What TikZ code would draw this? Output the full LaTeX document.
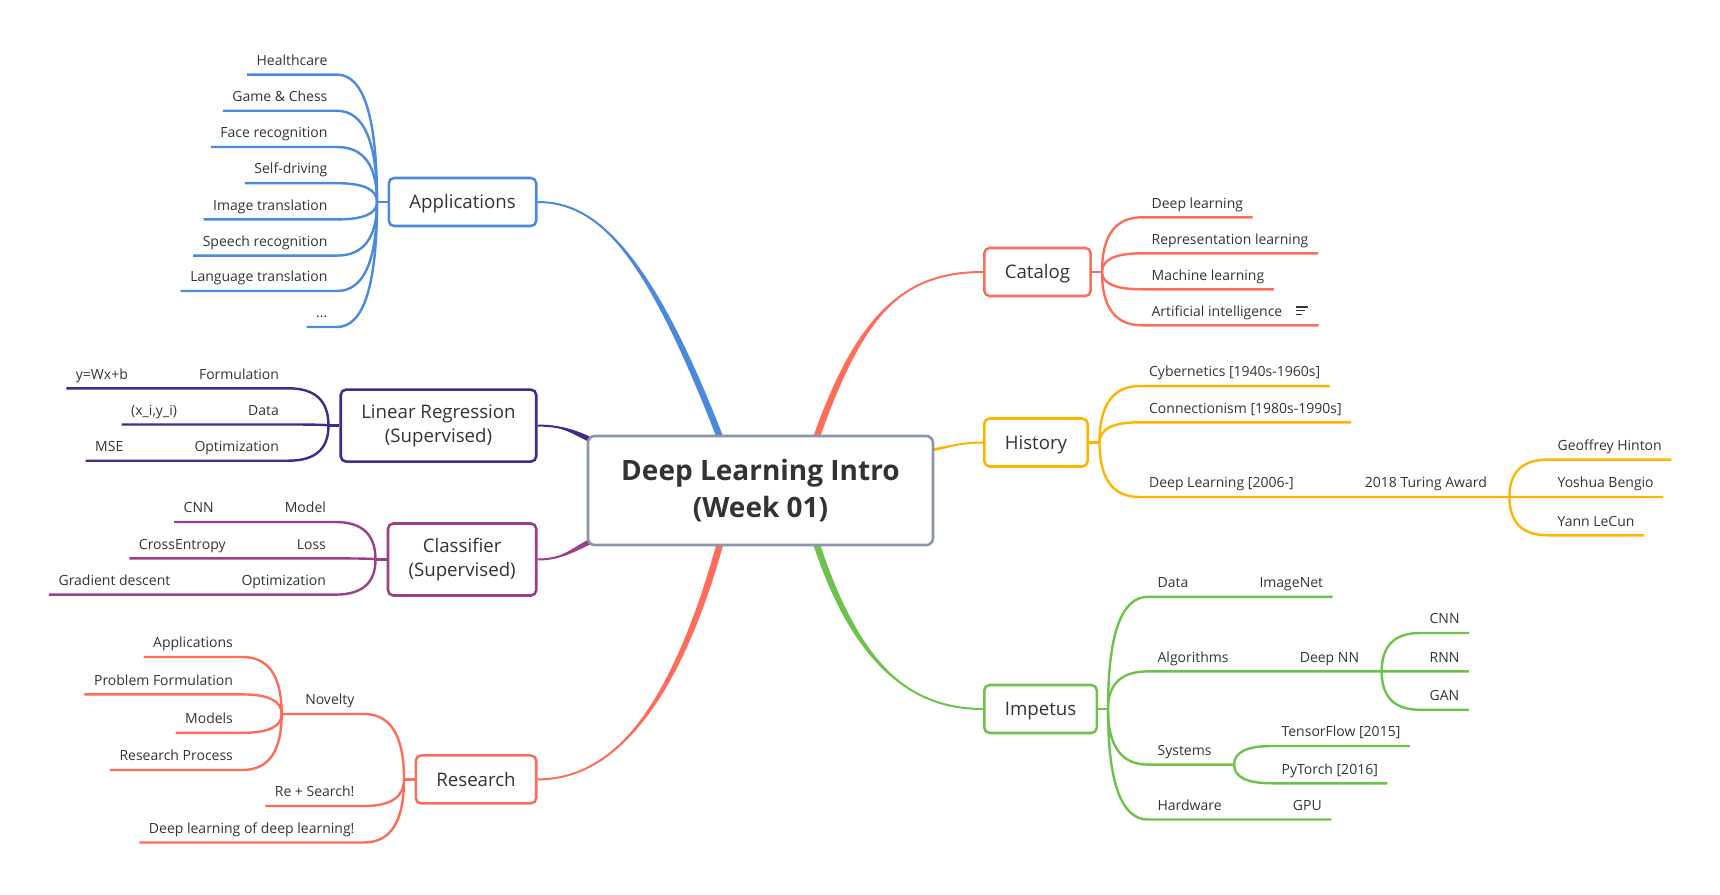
\documentclass[tikz,border=0pt]{standalone}
\usepackage{fontspec}
\setmainfont{Open Sans}
\usetikzlibrary{calc,positioning}
\definecolor{ink}{HTML}{333333}
\definecolor{rootline}{HTML}{8A95A9}
\definecolor{applications}{HTML}{4A89DC}
\definecolor{regression}{HTML}{3D2B8E}
\definecolor{classifier}{HTML}{9B3F88}
\definecolor{research}{HTML}{FF6C5A}
\definecolor{catalog}{HTML}{FF6C5A}
\definecolor{history}{HTML}{FFB400}
\definecolor{impetus}{HTML}{6CC24A}
\tikzstyle{core}=[draw=rootline, line width=1.9pt, rounded corners=5pt, fill=white, text=ink, align=center, inner sep=0pt, minimum width=258.75pt, minimum height=81.75pt, font=\bfseries\fontsize{21}{28}\selectfont]
\tikzstyle{hub}=[draw, line width=1.9pt, rounded corners=4pt, fill=white, text=ink, align=center, inner xsep=15.4pt, inner ysep=0pt, minimum height=36pt, font=\fontsize{14}{18}\selectfont]
\tikzset{lone/.style={text height=13.4pt, text depth=3.5pt}}
\tikzstyle{twig}=[text=ink, inner xsep=7pt, inner ysep=6.75pt, text height=8pt, text depth=0pt, font=\fontsize{10.5}{12}\selectfont]
\tikzset{rib/.style={line width=1.8pt}}
% bend from a fork into the underline of a topic
\tikzset{bough/.style={to path={.. controls ($(\tikztostart)!0.667!(\tikztostart |- \tikztotarget)$) and ($(\tikztotarget)!0.667!(\tikztostart |- \tikztotarget)$) .. (\tikztotarget)}}}
\pgfdeclarelayer{background}
\pgfsetlayers{background,main}
% tapered main branch: colour, start, out control, in control, end, half width
\newcommand\limb[6]{%
  \fill[#1] ($#2+#6$) .. controls +#3 and +#4 .. #5
    .. controls +#4 and +#3 .. ($#2-#6$) -- cycle;
  \draw[#1, line width=1.5pt] #2 .. controls +#3 and +#4 .. #5;}

\begin{document}
\begin{tikzpicture}[x=0.75pt,y=-0.75pt]
  \useasboundingbox (0,0) rectangle (1720,895);
  \draw (760.5,490.5) node[core] (root) {Deep Learning Intro\\(Week 01)};

  %% Main topics
  \draw (537.5,202) node[hub,lone,draw=applications,anchor=east] (app) {Applications};
  \draw (537.5,425.6) node[hub,draw=regression,anchor=east,minimum height=54pt] (lr) {Linear Regression\\(Supervised)};
  \draw (537.5,559.5) node[hub,draw=classifier,anchor=east,minimum height=54pt] (clf) {Classifier\\(Supervised)};
  \draw (537.5,779.4) node[hub,lone,draw=research,anchor=east] (res) {Research};
  \draw (983,272) node[hub,lone,draw=catalog,anchor=west] (cat) {Catalog};
  \draw (983,442.5) node[hub,lone,draw=history,anchor=west] (hist) {History};
  \draw (983,709) node[hub,lone,draw=impetus,anchor=west] (imp) {Impetus};

  \coordinate (sApp) at ($(root.north)+(-40,4)$);
  \coordinate (sCat) at ($(root.north)+(55.5,4)$);
  \coordinate (sRes) at ($(root.south)+(-40,-4)$);
  \coordinate (sImp) at ($(root.south)+(55.5,-4)$);
  \coordinate (sLR) at ($(root.north west)+(10,8)$);
  \coordinate (sClf) at ($(root.south west)+(10,-8)$);
  \coordinate (sHist) at ($(root.east)+(-6,-40)$);
  \begin{pgfonlayer}{background}
    \limb{applications}{(sApp)}{(-72,-186)}{(60,0)}{(app.east)}{(3.5,0)}
    \limb{catalog}{(sCat)}{(44,-125)}{(-80,0)}{(cat.west)}{(3.5,0)}
    \limb{research}{(sRes)}{(-49,176)}{(70,0)}{(res.east)}{(3.5,0)}
    \limb{impetus}{(sImp)}{(41,126)}{(-70,0)}{(imp.west)}{(3.5,0)}
    \limb{regression}{(sLR)}{(-25,-12)}{(25,0)}{(lr.east)}{(1,-2.5)}
    \limb{classifier}{(sClf)}{(-25,12)}{(25,0)}{(clf.east)}{(1,2.5)}
    \limb{history}{(sHist)}{(20,-3)}{(-25,0)}{(hist.west)}{(0,1.5)}
  \end{pgfonlayer}

  %% Applications
  \coordinate (jApp) at (377,202);
  \draw (337,74.6) node[twig,anchor=south east] (health) {Healthcare};
  \draw (337,110.8) node[twig,anchor=south east] (chess) {Game \& Chess};
  \draw (337,147) node[twig,anchor=south east] (face) {Face recognition};
  \draw (337,183.2) node[twig,anchor=south east] (drive) {Self-driving};
  \draw (337,219.4) node[twig,anchor=south east] (image) {Image translation};
  \draw (337,255.6) node[twig,anchor=south east] (speech) {Speech recognition};
  \draw (337,291) node[twig,anchor=south east] (lang) {Language translation};
  \draw (337,327) node[twig,anchor=south east] (more) {...};
  \draw[rib,applications] (app.west) -- (jApp);
  \draw[rib,applications] (jApp) to[bough] (health.south east) -- (health.south west);
  \draw[rib,applications] (jApp) to[bough] (chess.south east) -- (chess.south west);
  \draw[rib,applications] (jApp) to[bough] (face.south east) -- (face.south west);
  \draw[rib,applications] (jApp) to[bough] (drive.south east) -- (drive.south west);
  \draw[rib,applications] (jApp) to[bough] (image.south east) -- (image.south west);
  \draw[rib,applications] (jApp) to[bough] (speech.south east) -- (speech.south west);
  \draw[rib,applications] (jApp) to[bough] (lang.south east) -- (lang.south west);
  \draw[rib,applications] (jApp) to[bough] (more.south east) -- (more.south west);

  %% Linear Regression
  \coordinate (jLR) at (328.5,425.6);
  \draw (288.5,388.3) node[twig,anchor=south east] (form) {Formulation};
  \node[twig,left=39pt of form] (ywx) {y=Wx+b};
  \draw (288.5,424.5) node[twig,anchor=south east] (lrdata) {Data};
  \node[twig,left=39pt of lrdata] (xiyi) {(x\_i,y\_i)};
  \draw (288.5,460.7) node[twig,anchor=south east] (lropt) {Optimization};
  \node[twig,left=39pt of lropt] (mse) {MSE};
  \draw[rib,regression] (lr.west) -- (jLR);
  \draw[rib,regression] (jLR) to[bough] (form.south east) -- (form.south west) -- (ywx.south east) -- (ywx.south west);
  \draw[rib,regression] (jLR) to[bough] (lrdata.south east) -- (lrdata.south west) -- (xiyi.south east) -- (xiyi.south west);
  \draw[rib,regression] (jLR) to[bough] (lropt.south east) -- (lropt.south west) -- (mse.south east) -- (mse.south west);

  %% Classifier
  \coordinate (jClf) at (375.5,559.5);
  \draw (335.5,522) node[twig,anchor=south east] (model) {Model};
  \node[twig,left=39pt of model] (cnnmodel) {CNN};
  \draw (335.5,558.4) node[twig,anchor=south east] (loss) {Loss};
  \node[twig,left=39pt of loss] (xent) {CrossEntropy};
  \draw (335.5,594.6) node[twig,anchor=south east] (clfopt) {Optimization};
  \node[twig,left=39pt of clfopt] (gd) {Gradient descent};
  \draw[rib,classifier] (clf.west) -- (jClf);
  \draw[rib,classifier] (jClf) to[bough] (model.south east) -- (model.south west) -- (cnnmodel.south east) -- (cnnmodel.south west);
  \draw[rib,classifier] (jClf) to[bough] (loss.south east) -- (loss.south west) -- (xent.south east) -- (xent.south west);
  \draw[rib,classifier] (jClf) to[bough] (clfopt.south east) -- (clfopt.south west) -- (gd.south east) -- (gd.south west);

  %% Research
  \coordinate (jRes) at (404,779.4);
  \draw (364,714) node[twig,anchor=south east] (nov) {Novelty};
  \coordinate (jNov) at ($(nov.south west)+(-14,0)$);
  \draw (242.5,657) node[twig,anchor=south east] (napp) {Applications};
  \draw (242.5,694.4) node[twig,anchor=south east] (nprob) {Problem Formulation};
  \draw (242.5,732.8) node[twig,anchor=south east] (nmod) {Models};
  \draw (242.5,770) node[twig,anchor=south east] (nproc) {Research Process};
  \draw (364,806) node[twig,anchor=south east] (search) {Re + Search!};
  \draw (364,842.5) node[twig,anchor=south east] (meta) {Deep learning of deep learning!};
  \draw[rib,research] (res.west) -- (jRes);
  \draw[rib,research] (jRes) to[bough] (nov.south east) -- (nov.south west) -- (jNov);
  \draw[rib,research] (jRes) to[bough] (search.south east) -- (search.south west);
  \draw[rib,research] (jRes) to[bough] (meta.south east) -- (meta.south west);
  \draw[rib,research] (jNov) to[bough] (napp.south east) -- (napp.south west);
  \draw[rib,research] (jNov) to[bough] (nprob.south east) -- (nprob.south west);
  \draw[rib,research] (jNov) to[bough] (nmod.south east) -- (nmod.south west);
  \draw[rib,research] (jNov) to[bough] (nproc.south east) -- (nproc.south west);

  %% Catalog
  \coordinate (jCat) at (1102,272);
  \draw (1142,217.3) node[twig,anchor=south west] (deep) {Deep learning};
  \draw (1142,253.3) node[twig,anchor=south west] (repr) {Representation learning};
  \draw (1142,289.3) node[twig,anchor=south west] (ml) {Machine learning};
  \draw (1142,325.3) node[twig,anchor=south west] (ai) {Artificial intelligence\rule{20pt}{0pt}};
  \draw[rib,catalog] (cat.east) -- (jCat);
  \draw[rib,catalog] (jCat) to[bough] (deep.south west) -- (deep.south east);
  \draw[rib,catalog] (jCat) to[bough] (repr.south west) -- (repr.south east);
  \draw[rib,catalog] (jCat) to[bough] (ml.south west) -- (ml.south east);
  \draw[rib,catalog] (jCat) to[bough] (ai.south west) -- (ai.south east);
  % notes icon
  \draw[ink,line width=0.9pt] ([shift={(-22.4,-18.3)}]ai.south east) -- ++(11.4,0);
  \draw[ink,line width=0.9pt] ([shift={(-22.4,-14.6)}]ai.south east) -- ++(9,0);
  \draw[ink,line width=0.9pt] ([shift={(-22.4,-11)}]ai.south east) -- ++(5.7,0);

  %% History
  \coordinate (jHist) at (1099.5,442.5);
  \draw (1139.5,386.1) node[twig,anchor=south west] (cyber) {Cybernetics [1940s-1960s]};
  \draw (1139.5,422.3) node[twig,anchor=south west] (conn) {Connectionism [1980s-1990s]};
  \draw (1139.5,497) node[twig,anchor=south west] (dl) {Deep Learning [2006-]};
  \node[twig,right=39pt of dl] (turing) {2018 Turing Award};
  \coordinate (jTur) at ($(turing.south east)+(13,0)$);
  \draw (1548,459.6) node[twig,anchor=south west] (hinton) {Geoffrey Hinton};
  \draw (1548,497) node[twig,anchor=south west] (bengio) {Yoshua Bengio};
  \draw (1548,535.3) node[twig,anchor=south west] (lecun) {Yann LeCun};
  \draw[rib,history] (hist.east) -- (jHist);
  \draw[rib,history] (jHist) to[bough] (cyber.south west) -- (cyber.south east);
  \draw[rib,history] (jHist) to[bough] (conn.south west) -- (conn.south east);
  \draw[rib,history] (jHist) to[bough] (dl.south west) -- (dl.south east) -- (turing.south west) -- (turing.south east) -- (jTur);
  \draw[rib,history] (jTur) to[bough] (hinton.south west) -- (hinton.south east);
  \draw[rib,history] (jTur) to[bough] (bengio.south west) -- (bengio.south east);
  \draw[rib,history] (jTur) to[bough] (lecun.south west) -- (lecun.south east);

  %% Impetus
  \coordinate (jImp) at (1108,709);
  \draw (1148,596.8) node[twig,anchor=south west] (data) {Data};
  \node[twig,right=39pt of data] (imagenet) {ImageNet};
  \draw (1148,671.4) node[twig,anchor=south west] (algo) {Algorithms};
  \node[twig,right=39pt of algo] (dnn) {Deep NN};
  \coordinate (jDnn) at ($(dnn.south east)+(13,0)$);
  \draw (1420,633) node[twig,anchor=south west] (cnn) {CNN};
  \draw (1420,671.4) node[twig,anchor=south west] (rnn) {RNN};
  \draw (1420,709.8) node[twig,anchor=south west] (gan) {GAN};
  \draw (1148,764.6) node[twig,anchor=south west] (sys) {Systems};
  \coordinate (jSys) at ($(sys.south east)+(13,0)$);
  \draw (1272,746) node[twig,anchor=south west] (tf) {TensorFlow [2015]};
  \draw (1272,783.3) node[twig,anchor=south west] (torch) {PyTorch [2016]};
  \draw (1148,819.5) node[twig,anchor=south west] (hw) {Hardware};
  \node[twig,right=39pt of hw] (gpu) {GPU};
  \draw[rib,impetus] (imp.east) -- (jImp);
  \draw[rib,impetus] (jImp) to[bough] (data.south west) -- (data.south east) -- (imagenet.south west) -- (imagenet.south east);
  \draw[rib,impetus] (jImp) to[bough] (algo.south west) -- (algo.south east) -- (dnn.south west) -- (dnn.south east) -- (jDnn);
  \draw[rib,impetus] (jDnn) to[bough] (cnn.south west) -- (cnn.south east);
  \draw[rib,impetus] (jDnn) to[bough] (rnn.south west) -- (rnn.south east);
  \draw[rib,impetus] (jDnn) to[bough] (gan.south west) -- (gan.south east);
  \draw[rib,impetus] (jImp) to[bough] (sys.south west) -- (sys.south east) -- (jSys);
  \draw[rib,impetus] (jSys) to[bough] (tf.south west) -- (tf.south east);
  \draw[rib,impetus] (jSys) to[bough] (torch.south west) -- (torch.south east);
  \draw[rib,impetus] (jImp) to[bough] (hw.south west) -- (hw.south east) -- (gpu.south west) -- (gpu.south east);
\end{tikzpicture}
\end{document}
